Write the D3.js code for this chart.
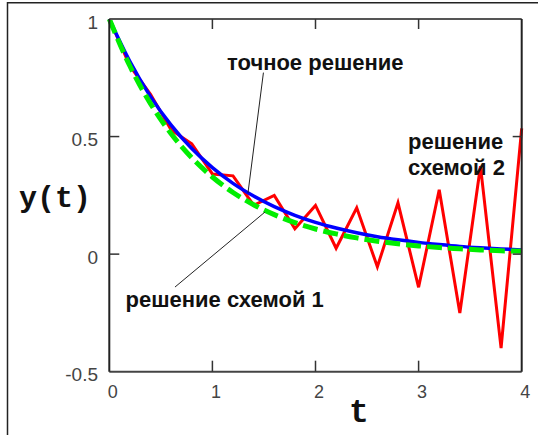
<!DOCTYPE html>
<html>
<head>
<meta charset="utf-8">
<script src="https://cdn.jsdelivr.net/npm/d3@7"></script>
<style>
  html, body { margin: 0; padding: 0; background: #fff; }
  svg { display: block; }
</style>
</head>
<body>
<svg id="chart" width="538" height="435"></svg>
<script>
// ---- data ----
const tValues = [0, 0.2, 0.4, 0.6, 0.8, 1.0, 1.2, 1.4, 1.6, 1.8, 2.0,
                 2.2, 2.4, 2.6, 2.8, 3.0, 3.2, 3.4, 3.6, 3.8, 4.0];
const exactValues = [1, 0.819, 0.670, 0.549, 0.449, 0.368, 0.301, 0.247, 0.202, 0.165, 0.135,
                     0.111, 0.091, 0.074, 0.061, 0.050, 0.041, 0.033, 0.027, 0.022, 0.018];
const scheme1Values = [1, 0.80, 0.64, 0.512, 0.410, 0.328, 0.262, 0.210, 0.168, 0.134, 0.107,
                       0.086, 0.069, 0.055, 0.044, 0.035, 0.028, 0.023, 0.018, 0.014, 0.012];
const scheme2Values = [1, 0.80, 0.68, 0.528, 0.469, 0.341, 0.333, 0.208, 0.250, 0.108, 0.207,
                       0.025, 0.197, -0.054, 0.218, -0.141, 0.274, -0.250, 0.374, -0.400, 0.535];
const xTicks = [0, 1, 2, 3, 4];
const yTicks = [1, 0.5, 0, -0.5];
const xTickLabels = ["0", "1", "2", "3", "4"];
const yTickLabels = ["1", "0.5", "0", "-0.5"];
const xTitle = "t";
const yTitle = "y(t)";
const labelExact = "точное решение";
const labelScheme1 = "решение схемой 1";
const labelScheme2 = ["решение", "схемой 2"];

// ---- layout ----
const svg = d3.select("#chart");
const x = d3.scaleLinear().domain([0, 4]).range([109.3, 521.7]);
const y = d3.scaleLinear().domain([-0.5, 1]).range([371.7, 19]);

// outer frame (top & left edge)
svg.append("path")
  .attr("d", "M7.5,435 V2.8 H538")
  .attr("fill", "none").attr("stroke", "#222").attr("stroke-width", 1.5);

// series
const seriesLine = curve => d3.line().x((d, i) => x(tValues[i])).y(d => y(d)).curve(curve);

svg.append("path")
  .datum(scheme2Values)
  .attr("d", seriesLine(d3.curveLinear))
  .attr("fill", "none").attr("stroke", "#ff0000").attr("stroke-width", 3);

svg.append("path")
  .datum(exactValues)
  .attr("d", seriesLine(d3.curveMonotoneX))
  .attr("fill", "none").attr("stroke", "#0000ff").attr("stroke-width", 3.5);

svg.append("path")
  .datum(scheme1Values)
  .attr("d", seriesLine(d3.curveMonotoneX))
  .attr("fill", "none").attr("stroke", "#00ee00").attr("stroke-width", 5)
  .attr("stroke-dasharray", "15,6");

// plot box
const x0 = x.range()[0], x1 = x.range()[1], yTop = y.range()[1], yBot = y.range()[0];
svg.append("line").attr("x1", x0).attr("x2", x1).attr("y1", yTop).attr("y2", yTop)
  .attr("stroke", "#555").attr("stroke-width", 2);
svg.append("line").attr("x1", x0).attr("x2", x1).attr("y1", yBot).attr("y2", yBot)
  .attr("stroke", "#444").attr("stroke-width", 2);
svg.append("line").attr("x1", x0).attr("x2", x0).attr("y1", yTop).attr("y2", yBot)
  .attr("stroke", "#222").attr("stroke-width", 2);
svg.append("line").attr("x1", x1).attr("x2", x1).attr("y1", yTop).attr("y2", yBot)
  .attr("stroke", "#222").attr("stroke-width", 2);

// inner ticks
const innerX = xTicks.filter(v => v > 0 && v < 4);
const innerY = yTicks.filter(v => v > -0.5 && v < 1);
const tickG = svg.append("g").attr("stroke", "#333").attr("stroke-width", 1.5);
innerX.forEach(v => {
  tickG.append("line").attr("x1", x(v)).attr("x2", x(v)).attr("y1", yBot).attr("y2", yBot - 11);
  tickG.append("line").attr("x1", x(v)).attr("x2", x(v)).attr("y1", yTop).attr("y2", yTop + 10);
});
innerY.forEach(v => {
  tickG.append("line").attr("x1", x0).attr("x2", x0 + 10).attr("y1", y(v)).attr("y2", y(v));
  tickG.append("line").attr("x1", x1).attr("x2", x1 - 9).attr("y1", y(v)).attr("y2", y(v));
});

// tick labels
const tickFont = "'Liberation Sans', Arial, sans-serif";
svg.append("g").selectAll("text").data(xTicks).join("text")
  .attr("x", d => x(d) + 3.5).attr("y", 398)
  .attr("text-anchor", "middle")
  .attr("font-family", tickFont).attr("font-size", 18).attr("fill", "#444")
  .text((d, i) => xTickLabels[i]);
svg.append("g").selectAll("text").data(yTicks).join("text")
  .attr("x", 98).attr("y", d => y(d) + 9.5)
  .attr("text-anchor", "end")
  .attr("font-family", tickFont).attr("font-size", 19).attr("fill", "#444")
  .text((d, i) => yTickLabels[i]);

// axis titles
svg.append("text").attr("x", 55).attr("y", 207).attr("text-anchor", "middle")
  .attr("font-family", "'Liberation Mono', 'Courier New', monospace")
  .attr("font-size", 30).attr("font-weight", "bold").attr("fill", "#111")
  .text(yTitle);
svg.append("text").attr("x", 359).attr("y", 422).attr("text-anchor", "middle")
  .attr("font-family", "'Liberation Mono', 'Courier New', monospace")
  .attr("font-size", 33).attr("font-weight", "bold").attr("fill", "#111")
  .text(xTitle);

// annotations (leader lines in data coordinates)
const leaders = [
  [[1.495, 0.772], [1.345, 0.260]],
  [[0.637, -0.140], [1.510, 0.179]]
];
leaders.forEach(l => {
  svg.append("line")
    .attr("x1", x(l[0][0])).attr("y1", y(l[0][1]))
    .attr("x2", x(l[1][0])).attr("y2", y(l[1][1]))
    .attr("stroke", "#222").attr("stroke-width", 1);
});

const annFont = "'Liberation Sans', Arial, sans-serif";
function ann(txt, px, py) {
  svg.append("text").attr("x", px).attr("y", py)
    .attr("font-family", annFont).attr("font-size", 22).attr("font-weight", "bold")
    .attr("fill", "#111").text(txt);
}
ann(labelExact, 227, 70);
ann(labelScheme1, 125.5, 307);
ann(labelScheme2[0], 408, 149);
ann(labelScheme2[1], 408, 175);
</script>
</body>
</html>
